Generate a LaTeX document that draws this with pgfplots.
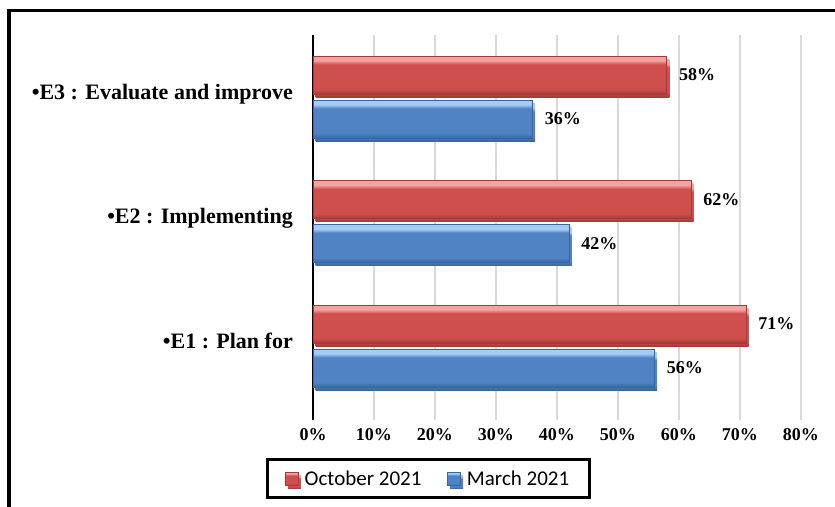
\documentclass[border=0pt]{standalone}
\usepackage{pgfplots}
\pgfplotsset{compat=1.18}
\usepackage{fontspec}
\setmainfont{Liberation Serif}
\newfontfamily\carlito{Carlito}

\definecolor{redmain}{HTML}{CF4F4C}
\definecolor{redlight}{HTML}{F5A3A1}
\definecolor{reddark}{HTML}{A13A38}
\definecolor{bluemain}{HTML}{4F83C4}
\definecolor{bluelight}{HTML}{A4CCF5}
\definecolor{bluedark}{HTML}{38669E}
% the path's box maps to 25bp..75bp of the shading
\pgfdeclareverticalshading{redbar}{100bp}{color(0bp)=(reddark); color(25bp)=(reddark); color(31bp)=(redmain); color(64bp)=(redmain); color(69bp)=(redlight); color(75bp)=(redlight); color(100bp)=(redlight)}
\pgfdeclareverticalshading{bluebar}{100bp}{color(0bp)=(bluedark); color(25bp)=(bluedark); color(31bp)=(bluemain); color(64bp)=(bluemain); color(69bp)=(bluelight); color(75bp)=(bluelight); color(100bp)=(bluelight)}

\pgfplotsset{
    octbar/.style={shade, shading=redbar, draw=reddark, line width=0.6bp, bar shift=22bp,
        preaction={draw=none, fill=black!16, transform canvas={xshift=2.5bp, yshift=-3bp}}},
    marbar/.style={shade, shading=bluebar, draw=bluedark, line width=0.6bp, bar shift=-22bp,
        preaction={draw=none, fill=black!16, transform canvas={xshift=2.5bp, yshift=-3bp}}},
}

\begin{document}
\begin{tikzpicture}
\path[use as bounding box] (0,0) rectangle (835bp,507bp);
% frame of the chart area (left and top only)
\draw[line width=3.6bp, line join=miter] (9bp,0) -- (9bp,496.5bp) -- (835bp,496.5bp);

\begin{axis}[
    at={(313bp,87bp)}, anchor=south west,
    scale only axis, width=488bp, height=385bp,
    xbar, bar width=38bp,
    xmin=0, xmax=80, ymin=-0.594, ymax=2.498,
    xtick={0,10,...,80},
    xticklabel={\pgfmathprintnumber{\tick}\%},
    ytick={0,1,2},
    yticklabels={{\textbullet E1 : Plan for},{\textbullet E2 : Implementing},{\textbullet E3 : Evaluate and improve}},
    /pgf/number format/assume math mode=true,
    major tick length=0pt,
    separate axis lines,
    axis x line*=bottom, x axis line style={draw=none},
    axis y line*=left, y axis line style={black, line width=1.2bp, -},
    xmajorgrids, grid style={black!15, line width=1.3bp},
    xticklabel style={font=\fontsize{18bp}{20bp}\selectfont\bfseries, anchor=north, inner sep=0pt, yshift=-8bp},
    yticklabel style={font=\fontsize{22bp}{24bp}\selectfont\bfseries, anchor=mid east, inner sep=0pt, xshift=-20bp},
    point meta=x,
    nodes near coords={\pgfmathprintnumber{\pgfplotspointmeta}\%},
    nodes near coords style={text=black, anchor=west, inner sep=0pt, xshift=12bp, font=\fontsize{18bp}{20bp}\selectfont\bfseries},
    legend columns=2,
    legend style={at={(0.236,-0.153)}, anchor=center, draw=black, line width=3bp,
        font=\carlito\fontsize{21bp}{24bp}\selectfont, inner xsep=18bp, inner ysep=9bp,
        /tikz/every even column/.append style={column sep=24bp}},
    legend image code/.code={\fill[#1, line width=0.5bp] (0bp,-6.5bp) rectangle (13bp,6.5bp); \path (17bp,0);},
]
% October 2021 (one plot per bar so each bar gets its own shading)
\addplot[octbar] coordinates {(58,2)};
\addplot[octbar, forget plot] coordinates {(62,1)};
\addplot[octbar, forget plot] coordinates {(71,0)};
% March 2021
\addplot[marbar] coordinates {(36,2)};
\addplot[marbar, forget plot] coordinates {(42,1)};
\addplot[marbar, forget plot] coordinates {(56,0)};
\legend{October 2021, March 2021}
\end{axis}
\end{tikzpicture}
\end{document}
